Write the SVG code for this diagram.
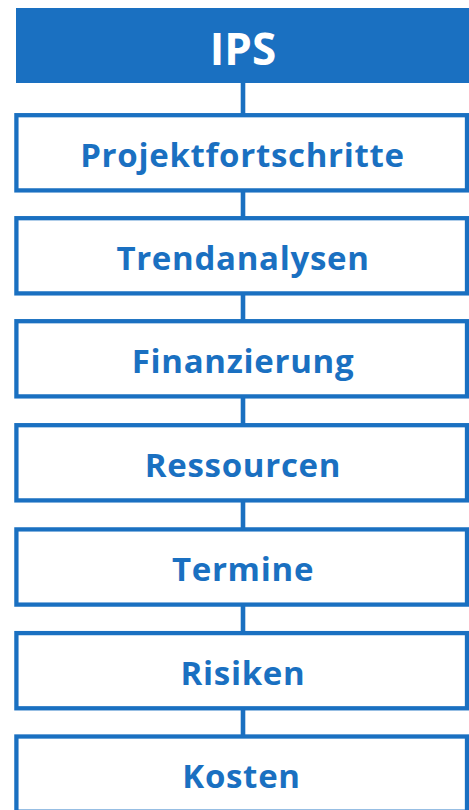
<svg xmlns="http://www.w3.org/2000/svg" width="469" height="810" viewBox="0 0 469 810">
<style>
.box{fill:#ffffff;stroke:#1a70c1;stroke-width:4.3}
.lbl{font-family:"Open Sans","Noto Sans","Liberation Sans",sans-serif;font-weight:bold;font-size:33px;fill:#1a70c1;text-anchor:middle;letter-spacing:0.7px}
.hdr{font-family:"Open Sans","Noto Sans","Liberation Sans",sans-serif;font-weight:bold;font-size:44px;fill:#ffffff;text-anchor:middle}
.con{stroke:#1a70c1;stroke-width:4.6;fill:none}
</style>
<rect width="469" height="810" fill="#ffffff"/>
<g id="connectors">
<line class="con" x1="243" y1="82" x2="243" y2="116"/>
<line class="con" x1="243" y1="190" x2="243" y2="219"/>
<line class="con" x1="243" y1="293" x2="243" y2="322"/>
<line class="con" x1="243" y1="396" x2="243" y2="426"/>
<line class="con" x1="243" y1="500" x2="243" y2="530"/>
<line class="con" x1="243" y1="604" x2="243" y2="634"/>
<line class="con" x1="243" y1="708" x2="243" y2="737"/>
</g>
<g id="ips">
<rect x="16" y="8" width="460" height="75" fill="#1a70c1"/>
<text class="hdr" x="243" y="65">IPS</text>
</g>
<g id="projektfortschritte">
<rect class="box" x="16.4" y="115.2" width="450.6" height="75.2"/>
<text class="lbl" x="242.5" y="166.7">Projektfortschritte</text>
</g>
<g id="trendanalysen">
<rect class="box" x="16.4" y="218.2" width="450.6" height="75.2"/>
<text class="lbl" x="243" y="269.7">Trendanalysen</text>
</g>
<g id="finanzierung">
<rect class="box" x="16.4" y="321.2" width="450.6" height="75.2"/>
<text class="lbl" x="243" y="372.7">Finanzierung</text>
</g>
<g id="ressourcen">
<rect class="box" x="16.4" y="425.2" width="450.6" height="75.2"/>
<text class="lbl" x="243" y="476.7">Ressourcen</text>
</g>
<g id="termine">
<rect class="box" x="16.4" y="529.4" width="450.6" height="75.2"/>
<text class="lbl" x="243" y="580.9">Termine</text>
</g>
<g id="risiken">
<rect class="box" x="16.4" y="633.1" width="450.6" height="75.2"/>
<text class="lbl" x="243" y="684.6">Risiken</text>
</g>
<g id="kosten">
<rect class="box" x="16.4" y="736.5" width="450.6" height="75.2"/>
<text class="lbl" x="241.5" y="788.3">Kosten</text>
</g>
</svg>
